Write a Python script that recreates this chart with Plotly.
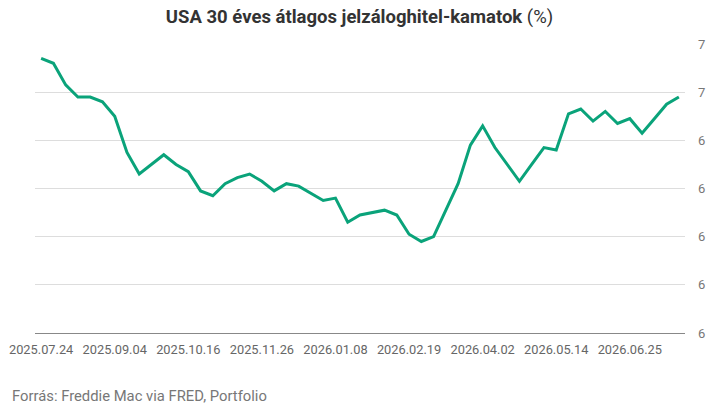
import plotly.graph_objects as go

dates = [
    "2025.07.24", "2025.07.31", "2025.08.07", "2025.08.14", "2025.08.21", "2025.08.28",
    "2025.09.04", "2025.09.11", "2025.09.18", "2025.09.25", "2025.10.02", "2025.10.09",
    "2025.10.16", "2025.10.23", "2025.10.30", "2025.11.06", "2025.11.13", "2025.11.20",
    "2025.11.26", "2025.12.04", "2025.12.11", "2025.12.18", "2025.12.24", "2025.12.31",
    "2026.01.08", "2026.01.15", "2026.01.22", "2026.01.29", "2026.02.05", "2026.02.12",
    "2026.02.19", "2026.02.26", "2026.03.05", "2026.03.12", "2026.03.19", "2026.03.26",
    "2026.04.02", "2026.04.09", "2026.04.16", "2026.04.23", "2026.04.30", "2026.05.07",
    "2026.05.14", "2026.05.21", "2026.05.28", "2026.06.04", "2026.06.11", "2026.06.18",
    "2026.06.25", "2026.07.02", "2026.07.09", "2026.07.16", "2026.07.23",
]

rates = [
    6.74, 6.72, 6.63, 6.58, 6.58, 6.56,
    6.50, 6.35, 6.26, 6.30, 6.34, 6.30,
    6.27, 6.19, 6.17, 6.22, 6.245, 6.26,
    6.23, 6.19, 6.22, 6.21, 6.18, 6.15,
    6.16, 6.06, 6.09, 6.10, 6.11, 6.09,
    6.01, 5.98, 6.00, 6.11, 6.22, 6.38,
    6.46, 6.37, 6.30, 6.23, 6.30, 6.37,
    6.36, 6.51, 6.53, 6.48, 6.52, 6.47,
    6.49, 6.43, 6.49, 6.55, 6.58,
]

y_ticks = [5.6, 5.8, 6.0, 6.2, 6.4, 6.6, 6.8]

fig = go.Figure()
fig.add_trace(go.Scatter(
    x=dates, y=rates, mode="lines",
    line=dict(color="#0aa37a", width=3),
    hoverinfo="x+y",
))

fig.update_layout(
    width=719, height=411,
    margin=dict(l=35, r=34, t=44, b=78, autoexpand=False),
    paper_bgcolor="white", plot_bgcolor="white",
    font=dict(family="Roboto, sans-serif", color="#666666", size=12),
    showlegend=False,
    title=dict(
        text="<b>USA 30 éves átlagos jelzáloghitel-kamatok</b> (%)",
        x=0.5, xanchor="center", y=0.96, yanchor="middle",
        font=dict(size=18.5, color="#333333"),
    ),
    xaxis=dict(
        type="category",
        range=[-0.5, len(dates) - 0.5],
        tickvals=dates[::6],
        ticktext=dates[::6],
        showgrid=False, automargin=False,
        showline=True, linecolor="#888888", linewidth=1,
        ticks="", ticklabelstandoff=5,
        tickfont=dict(size=12.8, color="#666666"),
    ),
    yaxis=dict(
        side="right",
        range=[5.6, 6.8],
        tickvals=y_ticks,
        tickformat=".0f",
        showgrid=True, gridcolor="#dddddd", gridwidth=1,
        zeroline=False, showline=False, automargin=False,
        ticks="", ticklabelstandoff=12,
        tickfont=dict(size=13, color="#777777"),
    ),
    annotations=[dict(
        text="Forrás: Freddie Mac via FRED, Portfolio",
        xref="paper", yref="paper", x=-0.0385, y=-0.218,
        xanchor="left", yanchor="middle", showarrow=False,
        font=dict(size=14.8, color="#777777"),
    )],
)

# drop the default body margin so the figure sits at the page corner
fig.write_html("out.html", config={"displayModeBar": False},
               post_script="document.body.style.margin='0';")
